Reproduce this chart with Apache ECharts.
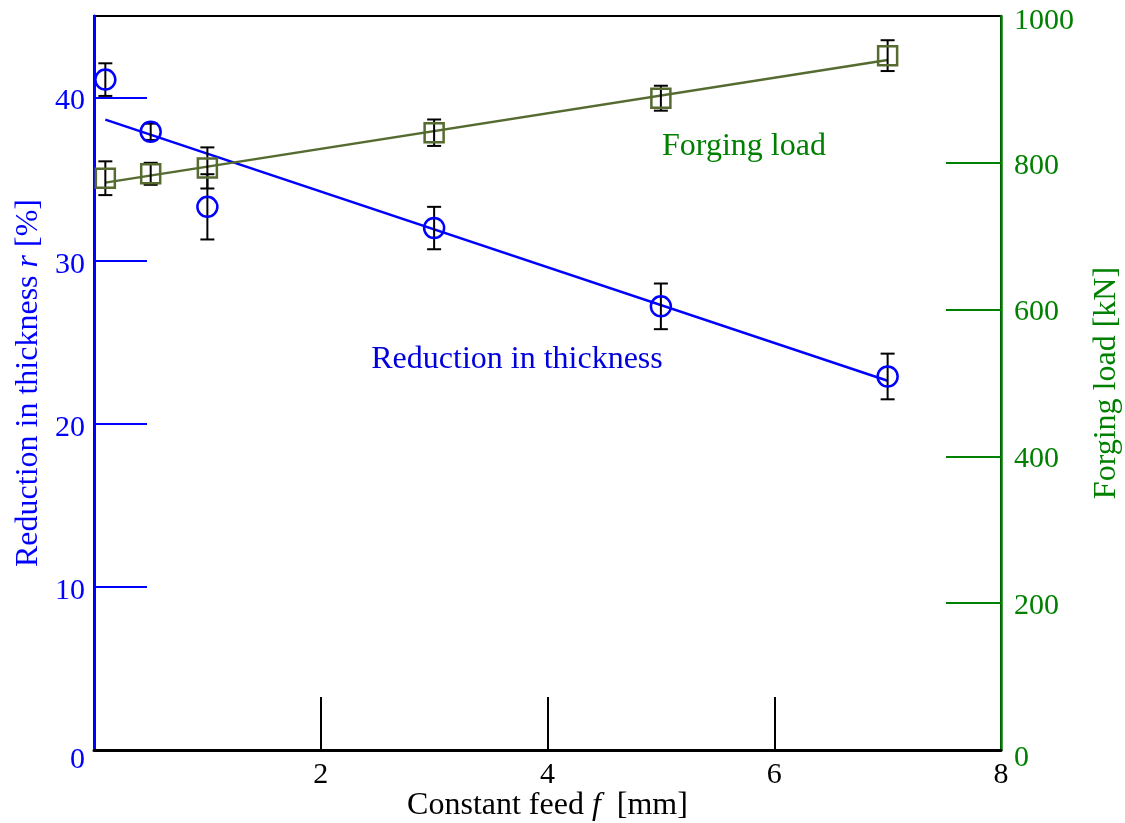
<!DOCTYPE html>
<html>
<head>
<meta charset="utf-8">
<script src="https://cdn.jsdelivr.net/npm/echarts@6/dist/echarts.min.js"></script>
<style>
  html, body { margin: 0; padding: 0; background: #ffffff; }
  #chart { width: 1125px; height: 823px; }
</style>
</head>
<body>
<div id="chart"></div>
<script>
// Measured points: constant feed f [mm]
const feed = [0.1, 0.5, 1, 3, 5, 7];
// Reduction in thickness r [%] and its error half-width
const reduction = [41.1, 37.9, 33.3, 32.0, 27.2, 22.9];
const reductionErr = [1.0, 0.5, 2.0, 1.3, 1.4, 1.4];
// Forging load [kN] and its error half-width
const load = [779, 785, 793, 841, 888, 946];
const loadErr = [23, 15, 28, 18, 17, 21];
// Linear fits (end points)
const reductionFitX = [0.1, 7];
const reductionFitY = [38.65, 22.64];
const loadFitX = [0.1, 7];
const loadFitY = [773, 940];
// Tick and label values
const xTickValues = [2, 4, 6];
const xLabelValues = [2, 4, 6, 8];
const leftTickValues = [10, 20, 30, 40];
const leftLabelValues = [0, 10, 20, 30, 40];
const rightTickValues = [200, 400, 600, 800];
const rightLabelValues = [0, 200, 400, 600, 800, 1000];

const FONT = 'Liberation Serif';
const BLUE = '#0000ff';
const GREEN = '#008000';
const OLIVE = '#556b2f';

const zip = (xs, ys) => xs.map((x, i) => [x, ys[i]]);
const errRows = (xs, ys, es) => xs.map((x, i) => [x, ys[i] - es[i], ys[i] + es[i]]);

function errorBar(params, api) {
  const x = api.value(0);
  const lo = api.coord([x, api.value(1)]);
  const hi = api.coord([x, api.value(2)]);
  const cap = 7;
  const style = { stroke: '#000', lineWidth: 2 };
  return {
    type: 'group',
    children: [
      { type: 'line', shape: { x1: lo[0], y1: lo[1], x2: hi[0], y2: hi[1] }, style },
      { type: 'line', shape: { x1: lo[0] - cap, y1: lo[1], x2: lo[0] + cap, y2: lo[1] }, style },
      { type: 'line', shape: { x1: hi[0] - cap, y1: hi[1], x2: hi[0] + cap, y2: hi[1] }, style }
    ]
  };
}

const chart = echarts.init(document.getElementById('chart'), null, { renderer: 'canvas' });

chart.setOption({
  animation: false,
  backgroundColor: '#ffffff',
  grid: {
    left: 94, right: 124, top: 16, bottom: 73,
    outerBoundsMode: 'none', containLabel: false,
    show: true, borderColor: '#000', borderWidth: 2, backgroundColor: 'transparent'
  },
  xAxis: {
    type: 'value', min: 0, max: 8, interval: 2,
    name: 'Constant feed {i|f}  [mm]',
    nameLocation: 'middle', nameGap: 40, nameMoveOverlap: false,
    nameTextStyle: {
      color: '#000', fontSize: 32, fontFamily: FONT,
      rich: { i: { fontStyle: 'italic', fontSize: 32, fontFamily: FONT, color: '#000' } }
    },
    axisLine: { show: true, lineStyle: { color: '#000', width: 3 } },
    axisTick: { show: true, inside: true, length: 53, customValues: xTickValues, lineStyle: { color: '#000', width: 2 } },
    axisLabel: { customValues: xLabelValues, color: '#000', fontSize: 30, fontFamily: FONT, margin: 10 },
    splitLine: { show: false }
  },
  yAxis: [
    {
      type: 'value', min: 0, max: 45, position: 'left',
      name: 'Reduction in thickness {i|r} [%]',
      nameLocation: 'middle', nameGap: 49, nameMoveOverlap: false,
      nameTextStyle: {
        color: BLUE, fontSize: 32, fontFamily: FONT,
        rich: { i: { fontStyle: 'italic', fontSize: 32, fontFamily: FONT, color: BLUE } }
      },
      axisLine: { show: true, lineStyle: { color: BLUE, width: 3 } },
      axisTick: { show: true, inside: true, length: 53, customValues: leftTickValues, lineStyle: { color: BLUE, width: 2 } },
      axisLabel: {
        customValues: leftLabelValues, color: BLUE, fontSize: 30, fontFamily: FONT, margin: 9,
        formatter: v => (v === 0 ? '{z|0}' : '{n|' + v + '}'),
        rich: {
          n: { color: BLUE, fontSize: 30, fontFamily: FONT, padding: [8, 0, 0, 0] },
          z: { color: BLUE, fontSize: 30, fontFamily: FONT, padding: [20, 0, 0, 0] }
        }
      },
      splitLine: { show: false }
    },
    {
      type: 'value', min: 0, max: 1000, position: 'right',
      name: 'Forging load [kN]',
      nameLocation: 'middle', nameGap: 90, nameMoveOverlap: false,
      nameTextStyle: { color: GREEN, fontSize: 32, fontFamily: FONT },
      axisLine: { show: true, lineStyle: { color: GREEN, width: 2.5 } },
      axisTick: { show: true, inside: true, length: 55, customValues: rightTickValues, lineStyle: { color: GREEN, width: 2 } },
      axisLabel: {
        customValues: rightLabelValues, color: GREEN, fontSize: 30, fontFamily: FONT, margin: 13,
        formatter: v => (v === 0 ? '{z|0}' : v === 1000 ? '{t|1000}' : '{n|' + v + '}'),
        rich: {
          n: { color: GREEN, fontSize: 30, fontFamily: FONT, padding: [6, 0, 0, 0] },
          t: { color: GREEN, fontSize: 30, fontFamily: FONT, padding: [10, 0, 0, 0] },
          z: { color: GREEN, fontSize: 30, fontFamily: FONT, padding: [16, 0, 0, 0] }
        }
      },
      splitLine: { show: false }
    }
  ],
  graphic: [
    {
      type: 'text', x: 517, y: 360,
      style: { text: 'Reduction in thickness', fill: '#0000dd', font: '32px "Liberation Serif"', textAlign: 'center', textVerticalAlign: 'middle' }
    },
    {
      type: 'text', x: 744, y: 147,
      style: { text: 'Forging load', fill: GREEN, font: '32px "Liberation Serif"', textAlign: 'center', textVerticalAlign: 'middle' }
    }
  ],
  series: [
    {
      name: 'Reduction fit', type: 'line', yAxisIndex: 0,
      data: zip(reductionFitX, reductionFitY), showSymbol: false,
      lineStyle: { color: BLUE, width: 2.5 }, z: 2
    },
    {
      name: 'Load fit', type: 'line', yAxisIndex: 1,
      data: zip(loadFitX, loadFitY), showSymbol: false,
      lineStyle: { color: OLIVE, width: 2.5 }, z: 2
    },
    {
      name: 'Reduction error', type: 'custom', yAxisIndex: 0,
      data: errRows(feed, reduction, reductionErr), renderItem: errorBar, z: 3
    },
    {
      name: 'Load error', type: 'custom', yAxisIndex: 1,
      data: errRows(feed, load, loadErr), renderItem: errorBar, z: 3
    },
    {
      name: 'Reduction in thickness', type: 'scatter', yAxisIndex: 0,
      data: zip(feed, reduction), symbol: 'circle', symbolSize: 20,
      itemStyle: { color: 'transparent', borderColor: BLUE, borderWidth: 2.5, opacity: 1 }, z: 4
    },
    {
      name: 'Forging load', type: 'scatter', yAxisIndex: 1,
      data: zip(feed, load), symbol: 'rect', symbolSize: 19,
      itemStyle: { color: 'transparent', borderColor: OLIVE, borderWidth: 2.5, opacity: 1 }, z: 4
    }
  ]
});
</script>
</body>
</html>
